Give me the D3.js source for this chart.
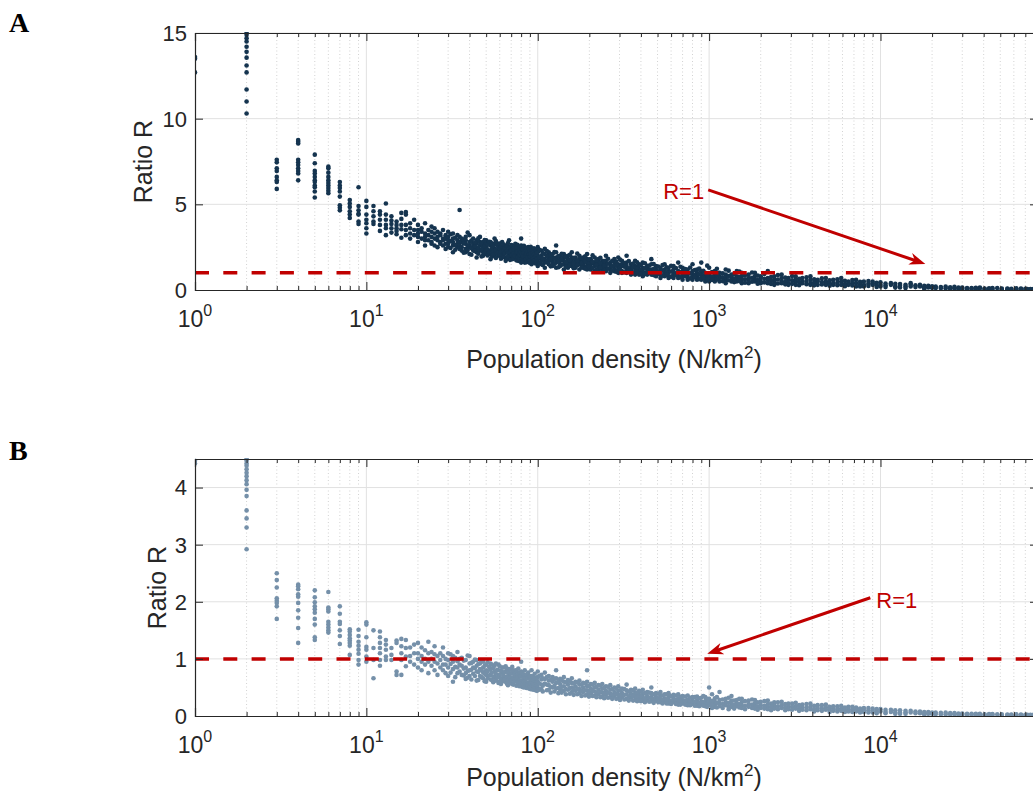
<!DOCTYPE html>
<html>
<head>
<meta charset="utf-8">
<script src="https://cdn.jsdelivr.net/npm/d3@7"></script>
<style>
body { margin: 0; background: #fff; }
svg { display: block; font-family: "Liberation Sans", Arial, Helvetica, sans-serif; }
</style>
</head>
<body>
<svg id="chart" width="1033" height="801"></svg>
<script>
// values: [density, [ratio R values at that density]]
const ratioA = [
    [1, [13.6, 13.5, 12.7]],
    [2, [15.04, 14.9, 14.7, 14.5, 14.2, 13.9, 13.56, 13.1, 12.7, 11.7, 11.0, 10.3]],
    [3, [7.6, 7.45, 7.1, 6.95, 6.6, 6.4, 6.3, 5.9]],
    [4, [8.75, 8.65, 8.55, 7.6, 7.45, 7.3, 7.1, 6.95, 6.8, 6.4]],
    [5, [7.9, 7.4, 6.95, 6.8, 6.6, 6.4, 6.3, 6.1, 6.0, 5.75, 5.4]],
    [6, [7.2, 7.1, 6.85, 6.6, 6.4, 6.25, 6.1, 5.95, 5.8, 5.65]],
    [7, [6.3, 6.1, 5.95, 5.75, 5.45, 4.95, 4.8, 4.65]],
    [8, [5.25, 5.05, 4.85, 4.6, 4.4, 4.2]],
    [9, [6.0, 4.9, 4.65, 4.45, 4.4, 4.0, 3.85]],
    [10, [5.2, 4.85, 4.4, 4.1, 3.9, 3.6, 3.3]],
    [11, [4.9, 4.6, 4.3, 4.0, 3.85]],
    [12, [4.6, 4.4, 4.1, 3.8, 3.45]],
    [13, [5.05, 4.4, 4.1, 3.8, 3.6, 3.2]],
    [14, [4.3, 4.05, 3.85, 3.6, 3.35]],
    [15, [4.0, 3.8, 3.6, 3.45, 3.25]],
    [16, [4.5, 4.15, 3.8, 3.55, 3.05]],
    [17, [4.55, 4.4, 3.8, 3.5, 3.2]],
    [18, [3.9, 3.6, 3.3, 3.0]],
    [19, [4.1, 3.5, 3.2]],
    [20, [3.8, 3.5, 3.3, 3.1, 2.8]],
    [21, [3.6, 3.4, 3.0]],
    [22, [3.9, 3.3, 3.1, 2.9, 2.6]],
    [23, [3.5, 3.2, 2.9]],
    [24, [3.7, 3.4, 3.1, 2.8, 2.7]],
    [25, [3.6, 3.3, 3.0, 2.6]],
    [26, [3.4, 3.1, 2.9, 2.5]],
    [27, [3.3, 3.2, 2.8, 2.7]],
    [28, [3.5, 3.0, 2.9, 2.6]],
    [29, [3.2, 3.0, 2.7, 2.4]],
    [30, [3.4, 3.1, 2.9, 2.7, 2.5]],
    [32, [3.3, 3.0, 2.8, 2.6, 2.2]],
    [34, [3.2, 2.9, 2.7, 2.5]],
    [35, [4.67, 3.1, 2.8, 2.6, 2.4]],
    [36, [3.0, 2.8, 2.5, 2.3]],
    [38, [3.1, 2.9, 2.7, 2.4, 2.2]],
    [40, [3.2, 2.8, 2.6, 2.5, 2.1]],
    [42, [3.0, 2.7, 2.5, 2.3]],
    [44, [2.9, 2.7, 2.4, 2.2, 1.9]],
    [46, [3.1, 2.8, 2.6, 2.3]],
    [48, [2.8, 2.6, 2.4, 2.2, 2.0]],
    [50, [2.9, 2.7, 2.5, 2.3, 2.1]],
    [53, [2.8, 2.6, 2.3, 2.1, 1.8]],
    [56, [3.0, 2.7, 2.4, 2.2, 2.0]],
    [59, [2.7, 2.5, 2.3, 2.0]],
    [62, [2.8, 2.5, 2.3, 2.1, 1.9]],
    [65, [2.6, 2.4, 2.2, 1.9, 1.7]],
    [68, [2.9, 2.5, 2.3, 2.1, 1.9]],
    [71, [2.6, 2.4, 2.2, 2.0, 1.8]],
    [74, [2.7, 2.3, 2.1, 1.9]],
    [77, [2.5, 2.3, 2.1, 1.9, 1.7]],
    [80, [3.0, 2.6, 2.2, 2.0, 1.8, 1.6]],
    [84, [2.4, 2.2, 2.0, 1.8, 1.6]],
    [88, [2.5, 2.3, 2.1, 1.9, 1.7]],
    [92, [2.4, 2.2, 2.0, 1.8, 1.5]],
    [96, [2.3, 2.1, 1.9, 1.7, 1.6]],
    [100, [2.5, 2.2, 2.0, 1.8, 1.6, 1.4]],
    [105, [2.3, 2.0, 1.9, 1.7, 1.5]],
    [110, [2.4, 2.1, 1.8, 1.6, 1.3]],
    [116, [2.2, 2.0, 1.9, 1.7, 1.5]],
    [122, [2.1, 1.9, 1.7, 1.6, 1.4]],
    [128, [2.6, 2.2, 1.9, 1.8, 1.6, 1.3]],
    [135, [2.0, 1.8, 1.7, 1.5, 1.4]],
    [142, [2.1, 1.9, 1.7, 1.5, 1.2]],
    [150, [2.0, 1.8, 1.6, 1.5, 1.3]],
    [158, [2.2, 1.9, 1.7, 1.6, 1.4]],
    [166, [1.9, 1.8, 1.6, 1.4, 1.3]],
    [175, [2.0, 1.8, 1.6, 1.5, 1.2]],
    [184, [1.9, 1.7, 1.5, 1.4, 1.3]],
    [194, [2.1, 1.8, 1.6, 1.4, 1.2]],
    [204, [1.8, 1.7, 1.5, 1.3, 1.2]],
    [215, [1.9, 1.6, 1.5, 1.4, 1.1]],
    [226, [1.8, 1.6, 1.4, 1.3, 1.2]],
    [238, [1.7, 1.5, 1.4, 1.2, 1.1]],
    [250, [2.0, 1.7, 1.5, 1.3, 1.1]],
    [265, [1.6, 1.5, 1.3, 1.2, 1.0]],
    [280, [1.8, 1.6, 1.4, 1.2, 1.1]],
    [295, [1.9, 1.5, 1.3, 1.2, 1.0]],
    [310, [1.7, 1.5, 1.4, 1.1, 1.0]],
    [330, [2.0, 1.6, 1.4, 1.2, 1.0]],
    [350, [1.5, 1.3, 1.2, 1.1, 0.9]],
    [370, [1.7, 1.4, 1.3, 1.1, 0.9]],
    [390, [1.5, 1.4, 1.2, 1.0, 0.9]],
    [410, [1.6, 1.3, 1.1, 1.0, 0.8]],
    [435, [1.4, 1.3, 1.1, 1.0, 0.9]],
    [460, [1.8, 1.5, 1.2, 1.0, 0.9]],
    [490, [1.4, 1.2, 1.1, 0.9, 0.8]],
    [520, [1.3, 1.2, 1.0, 0.9, 0.7]],
    [550, [1.5, 1.2, 1.1, 0.9, 0.8]],
    [580, [1.3, 1.1, 1.0, 0.8, 0.7]],
    [620, [1.4, 1.2, 1.0, 0.9, 0.7]],
    [660, [1.6, 1.1, 1.0, 0.8, 0.7]],
    [700, [1.3, 1.1, 0.9, 0.8, 0.6]],
    [750, [1.2, 1.0, 0.9, 0.7, 0.6]],
    [800, [1.5, 1.1, 0.9, 0.8, 0.6]],
    [850, [1.2, 1.0, 0.8, 0.7, 0.6]],
    [900, [1.6, 1.1, 0.9, 0.7, 0.6]],
    [950, [1.0, 0.9, 0.8, 0.6, 0.5]],
    [1000, [1.3, 0.9, 0.8, 0.7, 0.5]],
    [1080, [1.1, 0.9, 0.7, 0.6, 0.5]],
    [1150, [1.0, 0.8, 0.7, 0.5]],
    [1250, [1.2, 0.9, 0.7, 0.6, 0.4]],
    [1350, [0.9, 0.8, 0.6, 0.5]],
    [1450, [1.1, 0.8, 0.7, 0.5]],
    [1550, [1.0, 0.8, 0.6, 0.4]],
    [1700, [0.9, 0.7, 0.6, 0.4]],
    [1850, [1.0, 0.8, 0.6, 0.5]],
    [2000, [0.8, 0.7, 0.5, 0.4]],
    [2200, [1.1, 0.7, 0.6, 0.4]],
    [2400, [0.8, 0.6, 0.5, 0.3]],
    [2650, [0.9, 0.7, 0.5, 0.4]],
    [2900, [0.7, 0.6, 0.4, 0.3]],
    [3200, [0.8, 0.6, 0.5, 0.3]],
    [3500, [0.7, 0.5, 0.4]],
    [3900, [0.8, 0.6, 0.4, 0.3]],
    [4300, [0.6, 0.5, 0.3]],
    [4800, [0.7, 0.5, 0.4, 0.3]],
    [5300, [0.6, 0.4, 0.3]],
    [5900, [0.7, 0.5, 0.3]],
    [6500, [0.5, 0.4, 0.3]],
    [7200, [0.6, 0.4, 0.2]],
    [8000, [0.5, 0.3, 0.2]],
    [9000, [0.5, 0.4, 0.3]],
    [10000, [0.45, 0.3, 0.2]],
    [11500, [0.4, 0.3]],
    [13000, [0.35, 0.25, 0.15]],
    [15000, [0.4, 0.3, 0.2]],
    [17000, [0.3, 0.2]],
    [19000, [0.25, 0.15]],
    [21000, [0.2, 0.12]],
    [24000, [0.2, 0.1]],
    [27000, [0.18, 0.1]],
    [30000, [0.15, 0.08]],
    [34000, [0.12, 0.08]],
    [38000, [0.15, 0.1]],
    [43000, [0.1, 0.06]],
    [48000, [0.12]],
    [55000, [0.08, 0.05]],
    [62000, [0.1, 0.06]],
    [70000, [0.07]],
    [75000, [0.06]]
];

// more points of the dense cloud in panel A
const cloudA = [
    [31, [3.25, 2.85, 2.45]], [33, [3.05, 2.62, 2.35]], [37, [2.95, 2.72, 2.18]],
    [39, [3.35, 2.58, 2.33]], [41, [2.88, 2.44, 2.06]], [43, [2.76, 2.52, 2.28]],
    [45, [3.02, 2.47, 2.12]], [47, [2.69, 2.38, 1.96]], [49, [2.91, 2.55, 2.17]],
    [51, [2.64, 2.36, 2.02]], [52, [2.82, 2.19]], [54, [2.73, 2.41, 1.94]],
    [55, [2.57, 2.26, 2.08]], [57, [2.86, 2.34, 1.87]], [58, [2.61, 2.15]],
    [60, [2.71, 2.43, 2.05]], [61, [2.52, 2.24, 1.83]], [63, [2.67, 2.31, 1.97]],
    [64, [2.45, 2.12]], [66, [2.58, 2.27, 1.81]], [67, [2.74, 2.16, 1.95]],
    [69, [2.49, 2.21, 1.76]], [70, [2.62, 2.33, 2.04]], [72, [2.41, 2.13, 1.86]],
    [73, [2.55, 1.98]], [75, [2.47, 2.17, 1.73]], [76, [2.64, 2.26, 1.92]],
    [78, [2.38, 2.05, 1.79]], [79, [2.53, 2.22]], [81, [2.44, 2.11, 1.84]],
    [82, [2.36, 1.97, 1.68]], [83, [2.58, 2.18]], [85, [2.32, 2.03, 1.77]],
    [86, [2.47, 2.14, 1.62]], [87, [2.28, 1.93]], [89, [2.41, 2.07, 1.74]],
    [90, [2.26, 1.96, 1.58]], [91, [2.52, 2.12]], [93, [2.33, 2.01, 1.67]],
    [94, [2.19, 1.86]], [95, [2.43, 2.09, 1.72]], [97, [2.27, 1.94, 1.55]],
    [98, [2.36, 2.04]], [99, [2.18, 1.83, 1.63]],
    [102, [2.34, 1.92, 1.57]], [107, [2.15, 1.84, 1.46]], [113, [2.28, 1.96, 1.62]],
    [119, [2.06, 1.77, 1.38]], [125, [2.21, 1.85, 1.52]], [132, [1.98, 1.66, 1.33]],
    [138, [2.12, 1.78, 1.47]], [146, [1.93, 1.62, 1.36]], [154, [2.05, 1.74, 1.42]],
    [162, [1.87, 1.55, 1.27]], [170, [2.13, 1.72, 1.45]], [180, [1.84, 1.58, 1.32]],
    [189, [1.96, 1.65, 1.24]], [199, [1.78, 1.52, 1.37]], [209, [2.02, 1.63, 1.28]],
    [220, [1.74, 1.46, 1.18]], [232, [1.88, 1.57, 1.33]], [244, [1.69, 1.42, 1.16]],
    [257, [1.82, 1.53, 1.25]], [272, [1.71, 1.38, 1.14]], [287, [1.64, 1.45, 1.07]],
    [302, [1.77, 1.33, 1.16]], [320, [1.58, 1.36, 1.04]], [340, [1.69, 1.27, 1.12]],
    [360, [1.54, 1.31, 0.98]], [380, [1.62, 1.24, 1.06]], [400, [1.47, 1.18, 0.96]],
    [422, [1.56, 1.27, 0.93]], [447, [1.42, 1.16, 1.03]], [475, [1.51, 1.22, 0.87]],
    [505, [1.37, 1.06, 0.95]], [535, [1.46, 1.14, 0.84]], [565, [1.33, 1.02, 0.91]],
    [600, [1.41, 1.08, 0.78]], [640, [1.28, 0.97, 0.86]], [680, [1.36, 1.04, 0.74]],
    [725, [1.22, 0.93, 0.81]], [775, [1.31, 0.98, 0.68]], [825, [1.17, 0.87, 0.76]],
    [875, [1.25, 0.92, 0.64]], [925, [1.12, 0.83, 0.71]], [975, [1.42, 0.88, 0.62]],
    [1040, [1.05, 0.78, 0.58]], [1110, [1.24, 0.84, 0.63]], [1200, [0.98, 0.74, 0.52]],
    [1300, [1.13, 0.82, 0.57]], [1400, [0.93, 0.66, 0.46]], [1500, [1.08, 0.75, 0.53]],
    [1620, [0.86, 0.63, 0.42]], [1780, [1.02, 0.71, 0.48]], [1920, [0.84, 0.58, 0.37]],
    [2100, [0.93, 0.65, 0.44]], [2300, [0.76, 0.54, 0.35]], [2520, [0.87, 0.61, 0.38]],
    [2780, [0.72, 0.49, 0.33]], [3050, [0.81, 0.56, 0.36]], [3350, [0.66, 0.46, 0.28]],
    [3700, [0.74, 0.52, 0.34]], [4100, [0.62, 0.43, 0.27]], [4550, [0.68, 0.47, 0.32]],
    [5050, [0.57, 0.38, 0.25]], [5600, [0.63, 0.42, 0.28]], [6200, [0.54, 0.35, 0.22]],
    [6850, [0.58, 0.39, 0.26]], [7600, [0.48, 0.33, 0.21]], [8500, [0.52, 0.36, 0.24]],
    [9500, [0.42, 0.28, 0.18]], [10700, [0.38, 0.26, 0.17]], [12200, [0.36, 0.22, 0.14]],
    [14000, [0.31, 0.21, 0.12]], [16000, [0.28, 0.17]], [18000, [0.24, 0.14, 0.09]],
    [20000, [0.21, 0.13]], [22500, [0.17, 0.11]], [25500, [0.16, 0.09]],
    [28500, [0.14, 0.07]], [32000, [0.11, 0.07]], [36000, [0.13, 0.08]],
    [40500, [0.09, 0.05]], [45000, [0.11, 0.07]], [51000, [0.08, 0.05]],
    [58000, [0.07, 0.04]], [66000, [0.08, 0.05]], [72000, [0.05]], [78000, [0.06, 0.04]]
];

const ratioB = [
    [1, [4.47, 4.42]],
    [2, [4.5, 4.47, 4.42, 4.38, 4.32, 4.26, 4.2, 4.13, 4.06, 3.96, 3.85, 3.6, 3.46, 3.3, 2.92]],
    [3, [2.5, 2.38, 2.25, 2.06, 2.02, 1.98, 1.92, 1.7]],
    [4, [2.3, 2.27, 2.22, 2.13, 2.09, 1.98, 1.85, 1.72, 1.54, 1.28]],
    [5, [2.2, 2.08, 1.99, 1.92, 1.87, 1.81, 1.7, 1.6, 1.38, 1.33]],
    [6, [2.17, 1.9, 1.87, 1.83, 1.65, 1.6, 1.55, 1.5, 1.46]],
    [7, [1.92, 1.79, 1.65, 1.61, 1.5, 1.4, 1.26]],
    [8, [1.52, 1.48, 1.42, 1.36, 1.32, 1.28, 1.23, 1.07]],
    [9, [1.51, 1.4, 1.3, 1.23, 1.16, 1.09, 0.98, 0.9]],
    [10, [1.64, 1.6, 1.38, 1.21, 1.16, 1.04, 0.95]],
    [11, [1.5, 1.19, 0.98, 0.66]],
    [12, [1.48, 1.38, 1.28, 1.19, 1.1, 0.98, 0.88]],
    [13, [1.33, 1.25, 1.16, 1.04, 0.98]],
    [14, [1.19, 1.07, 0.98]],
    [15, [1.32, 1.28, 0.78, 0.72]],
    [16, [1.35, 1.22, 1.1, 0.98, 0.72]],
    [17, [1.33, 1.19, 1.04, 0.87]],
    [18, [1.2, 1.05, 0.95]],
    [19, [1.25, 1.1, 0.9]],
    [20, [1.28, 1.1, 1.0, 0.85]],
    [21, [1.2, 1.05, 0.95, 0.8]],
    [22, [1.15, 1.0, 0.9]],
    [23, [1.3, 1.1, 0.95, 0.75]],
    [24, [1.12, 1.0, 0.88]],
    [25, [1.22, 1.08, 0.95, 0.8]],
    [26, [1.05, 0.92, 0.72]],
    [27, [1.1, 0.98, 0.85]],
    [28, [1.2, 1.05, 0.9, 0.8]],
    [29, [1.0, 0.9, 0.75]],
    [30, [1.1, 0.98, 0.85, 0.7]],
    [32, [1.05, 0.95, 0.82, 0.6]],
    [34, [1.12, 0.96, 0.85, 0.75]],
    [35, [1.0, 0.9, 0.78]],
    [36, [1.02, 0.88, 0.72]],
    [38, [0.98, 0.85, 0.75, 0.65]],
    [40, [1.05, 0.92, 0.8, 0.7]],
    [42, [0.95, 0.85, 0.74]],
    [44, [0.98, 0.88, 0.78, 0.62]],
    [46, [0.92, 0.82, 0.7]],
    [48, [0.95, 0.85, 0.76, 0.66]],
    [50, [0.9, 0.8, 0.72, 0.6]],
    [53, [0.92, 0.82, 0.72, 0.64]],
    [56, [0.88, 0.78, 0.68]],
    [59, [0.9, 0.8, 0.7, 0.58]],
    [62, [0.85, 0.76, 0.66]],
    [65, [0.87, 0.78, 0.68, 0.6]],
    [68, [0.82, 0.73, 0.64]],
    [71, [0.86, 0.76, 0.66, 0.56]],
    [74, [0.8, 0.7, 0.62]],
    [77, [0.83, 0.74, 0.65, 0.55]],
    [80, [0.95, 0.78, 0.7, 0.6]],
    [84, [0.8, 0.7, 0.62, 0.54]],
    [88, [0.76, 0.68, 0.58]],
    [92, [0.8, 0.7, 0.62, 0.52]],
    [96, [0.74, 0.66, 0.56]],
    [100, [0.78, 0.68, 0.6, 0.5]],
    [105, [0.72, 0.64, 0.55, 0.47]],
    [110, [0.76, 0.65, 0.57]],
    [116, [0.7, 0.62, 0.54, 0.46]],
    [122, [0.68, 0.6, 0.5]],
    [128, [0.8, 0.66, 0.58, 0.48]],
    [135, [0.65, 0.56, 0.47]],
    [142, [0.68, 0.6, 0.52, 0.44]],
    [150, [0.63, 0.55, 0.46]],
    [158, [0.66, 0.58, 0.5, 0.42]],
    [166, [0.6, 0.52, 0.44]],
    [175, [0.62, 0.55, 0.47, 0.4]],
    [184, [0.58, 0.5, 0.42]],
    [194, [0.8, 0.6, 0.52, 0.45, 0.38]],
    [204, [0.56, 0.48, 0.4]],
    [215, [0.58, 0.5, 0.43, 0.36]],
    [226, [0.54, 0.46, 0.38]],
    [238, [0.56, 0.48, 0.41, 0.34]],
    [250, [0.52, 0.44, 0.37]],
    [265, [0.54, 0.46, 0.39, 0.33]],
    [280, [0.5, 0.42, 0.35]],
    [295, [0.52, 0.44, 0.37, 0.31]],
    [310, [0.48, 0.4, 0.33]],
    [330, [0.55, 0.45, 0.38, 0.3]],
    [350, [0.46, 0.39, 0.32]],
    [370, [0.48, 0.4, 0.34, 0.28]],
    [390, [0.44, 0.37, 0.3]],
    [410, [0.46, 0.38, 0.32, 0.27]],
    [435, [0.42, 0.35, 0.28]],
    [460, [0.5, 0.4, 0.33, 0.26]],
    [490, [0.4, 0.33, 0.27]],
    [520, [0.42, 0.35, 0.29, 0.24]],
    [550, [0.38, 0.31, 0.25]],
    [580, [0.4, 0.33, 0.27, 0.22]],
    [620, [0.37, 0.3, 0.24]],
    [660, [0.38, 0.31, 0.25, 0.2]],
    [700, [0.35, 0.28, 0.22]],
    [750, [0.36, 0.29, 0.23, 0.19]],
    [800, [0.33, 0.27, 0.21]],
    [850, [0.34, 0.27, 0.22, 0.18]],
    [900, [0.32, 0.25, 0.2]],
    [950, [0.33, 0.26, 0.21, 0.17]],
    [1000, [0.5, 0.3, 0.24, 0.19]],
    [1080, [0.31, 0.25, 0.2, 0.16]],
    [1150, [0.42, 0.28, 0.22, 0.17]],
    [1250, [0.3, 0.24, 0.19]],
    [1350, [0.35, 0.27, 0.21, 0.16]],
    [1450, [0.28, 0.22, 0.17]],
    [1550, [0.3, 0.24, 0.18, 0.14]],
    [1700, [0.27, 0.21, 0.16]],
    [1850, [0.28, 0.22, 0.17, 0.13]],
    [2000, [0.25, 0.19, 0.14]],
    [2200, [0.27, 0.21, 0.16, 0.12]],
    [2400, [0.24, 0.18, 0.13]],
    [2650, [0.25, 0.19, 0.14]],
    [2900, [0.22, 0.17, 0.12]],
    [3200, [0.23, 0.17, 0.13]],
    [3500, [0.2, 0.15, 0.11]],
    [3900, [0.22, 0.16, 0.12]],
    [4300, [0.19, 0.14, 0.1]],
    [4800, [0.2, 0.15, 0.11]],
    [5300, [0.17, 0.13, 0.09]],
    [5900, [0.18, 0.13, 0.09]],
    [6500, [0.16, 0.12, 0.08]],
    [7200, [0.15, 0.11, 0.08]],
    [8000, [0.14, 0.1, 0.07]],
    [9000, [0.13, 0.09, 0.06]],
    [10000, [0.12, 0.08]],
    [11500, [0.11, 0.07]],
    [13000, [0.1, 0.06, 0.04]],
    [15000, [0.09, 0.06]],
    [17000, [0.08, 0.05]],
    [19000, [0.07, 0.04]],
    [21000, [0.06, 0.035]],
    [24000, [0.06, 0.03]],
    [27000, [0.05, 0.03]],
    [30000, [0.045, 0.025]],
    [34000, [0.04, 0.025]],
    [38000, [0.04, 0.02]],
    [43000, [0.035, 0.02]],
    [48000, [0.03]],
    [55000, [0.025, 0.015]],
    [62000, [0.03, 0.02]],
    [70000, [0.02]],
    [75000, [0.02]]
];

// more points of the dense cloud in panel B
const cloudB = [
    [31, [1.08, 0.91, 0.76]], [33, [1.02, 0.86, 0.68]], [37, [0.97, 0.83, 0.71]],
    [39, [1.06, 0.79, 0.67]], [41, [0.93, 0.81, 0.64]], [43, [0.99, 0.84, 0.7]],
    [45, [0.91, 0.77, 0.63]], [47, [0.96, 0.8, 0.68]], [49, [0.88, 0.74, 0.61]],
    [51, [0.94, 0.78, 0.66]], [52, [0.86, 0.71]], [54, [0.9, 0.76, 0.63]],
    [55, [0.84, 0.69, 0.59]], [57, [0.92, 0.74, 0.62]], [58, [0.81, 0.67]],
    [60, [0.87, 0.72, 0.6]], [61, [0.79, 0.65, 0.56]], [63, [0.85, 0.71, 0.61]],
    [64, [0.77, 0.64]], [66, [0.83, 0.69, 0.57]], [67, [0.76, 0.62, 0.54]],
    [69, [0.81, 0.67, 0.58]], [70, [0.74, 0.63]], [72, [0.79, 0.66, 0.55]],
    [73, [0.72, 0.6]], [75, [0.78, 0.64, 0.53]], [76, [0.71, 0.59]],
    [78, [0.76, 0.63, 0.52]], [79, [0.7, 0.58]], [81, [0.74, 0.62, 0.51]],
    [82, [0.68, 0.56]], [83, [0.73, 0.6, 0.5]], [85, [0.67, 0.57]],
    [86, [0.72, 0.59, 0.49]], [87, [0.66, 0.55]], [89, [0.7, 0.58, 0.48]],
    [90, [0.65, 0.54]], [91, [0.69, 0.57, 0.47]], [93, [0.64, 0.53]],
    [94, [0.68, 0.56, 0.46]], [95, [0.63, 0.52]], [97, [0.67, 0.55, 0.45]],
    [98, [0.62, 0.51]], [99, [0.66, 0.54, 0.44]],
    [102, [0.7, 0.57, 0.46]], [107, [0.66, 0.53, 0.43]], [113, [0.68, 0.55, 0.45]],
    [119, [0.63, 0.51, 0.41]], [125, [0.65, 0.53, 0.43]], [132, [0.61, 0.49, 0.4]],
    [138, [0.63, 0.51, 0.41]], [146, [0.59, 0.47, 0.38]], [154, [0.61, 0.49, 0.39]],
    [162, [0.57, 0.46, 0.37]], [170, [0.59, 0.47, 0.38]], [180, [0.55, 0.44, 0.35]],
    [189, [0.57, 0.45, 0.36]], [199, [0.53, 0.42, 0.34]], [209, [0.55, 0.44, 0.35]],
    [220, [0.51, 0.41, 0.33]], [232, [0.53, 0.42, 0.33]], [244, [0.49, 0.39, 0.31]],
    [257, [0.51, 0.41, 0.32]], [272, [0.47, 0.37, 0.3]], [287, [0.49, 0.39, 0.3]],
    [302, [0.45, 0.36, 0.28]], [320, [0.47, 0.37, 0.29]], [340, [0.43, 0.34, 0.27]],
    [360, [0.45, 0.35, 0.27]], [380, [0.41, 0.33, 0.26]], [400, [0.43, 0.34, 0.26]],
    [422, [0.4, 0.31, 0.24]], [447, [0.41, 0.32, 0.25]], [475, [0.38, 0.3, 0.23]],
    [505, [0.39, 0.31, 0.24]], [535, [0.36, 0.28, 0.22]], [565, [0.38, 0.29, 0.22]],
    [600, [0.35, 0.27, 0.21]], [640, [0.36, 0.28, 0.21]], [680, [0.33, 0.26, 0.2]],
    [725, [0.34, 0.26, 0.2]], [775, [0.32, 0.25, 0.19]], [825, [0.33, 0.25, 0.18]],
    [875, [0.31, 0.23, 0.17]], [925, [0.35, 0.24, 0.18]], [975, [0.3, 0.22, 0.16]],
    [1040, [0.38, 0.26, 0.19, 0.14]], [1110, [0.33, 0.23, 0.15]], [1200, [0.29, 0.21, 0.14]],
    [1300, [0.32, 0.23, 0.16, 0.12]], [1400, [0.27, 0.19, 0.13]], [1500, [0.3, 0.21, 0.15]],
    [1620, [0.26, 0.18, 0.12]], [1780, [0.29, 0.2, 0.14]], [1920, [0.24, 0.17, 0.11]],
    [2100, [0.26, 0.18, 0.13]], [2300, [0.22, 0.16, 0.1]], [2520, [0.24, 0.17, 0.12]],
    [2780, [0.21, 0.15, 0.1]], [3050, [0.22, 0.16, 0.11]], [3350, [0.19, 0.13, 0.09]],
    [3700, [0.21, 0.15, 0.1]], [4100, [0.18, 0.12, 0.08]], [4550, [0.19, 0.13, 0.09]],
    [5050, [0.16, 0.11, 0.07]], [5600, [0.17, 0.12, 0.08]], [6200, [0.15, 0.1, 0.07]],
    [6850, [0.16, 0.11, 0.07]], [7600, [0.13, 0.09, 0.06]], [8500, [0.14, 0.1, 0.06]],
    [9500, [0.12, 0.08, 0.05]], [10700, [0.11, 0.07, 0.05]], [12200, [0.1, 0.06, 0.04]],
    [14000, [0.09, 0.06, 0.04]], [16000, [0.08, 0.05]], [18000, [0.07, 0.04, 0.03]],
    [20000, [0.06, 0.04]], [22500, [0.055, 0.03]], [25500, [0.05, 0.03]],
    [28500, [0.045, 0.025]], [32000, [0.04, 0.02]], [36000, [0.04, 0.025]],
    [40500, [0.03, 0.02]], [45000, [0.035, 0.02]], [51000, [0.03, 0.015]],
    [58000, [0.025, 0.015]], [66000, [0.025, 0.015]], [72000, [0.02]], [78000, [0.02, 0.015]]
];

const yTicksA = [0, 5, 10, 15];
const yTicksB = [0, 1, 2, 3, 4];
const decadeExps = [0, 1, 2, 3, 4];
const xMin = 1, xMax = 83000;
const refLine = 1;

// annotation anchors in data units [density, R]
const noteA = { label: 'R=1', at: [936, 5.8], from: [988, 5.84], to: [18270, 1.52] };
const noteB = { label: 'R=1', at: [9450, 2.03], from: [8720, 2.07], to: [975, 1.09] };

const panels = [
    { letter: 'A', top: 33, bottom: 290, yMax: 15, yTicks: yTicksA, cols: ratioA.concat(cloudA),
      color: '#15344f', note: noteA, anchor: 'end', letterY: 32, ylabX: 152, titleGap: 78 },
    { letter: 'B', top: 459, bottom: 716, yMax: 4.5, yTicks: yTicksB, cols: ratioB.concat(cloudB),
      color: '#7590a9', note: noteB, anchor: 'start', letterY: 460, ylabX: 166, titleGap: 70 }
];

const left = 195, right = 1038;
const axisColor = '#262626';
const red = '#c00000';
const svg = d3.select('#chart');

const minorVals = [];
for (const e of decadeExps) {
    for (let m = 2; m <= 9; m++) {
        const v = m * Math.pow(10, e);
        if (v < xMax) minorVals.push(v);
    }
}

function drawPanel(p, i) {
    const x = d3.scaleLog().domain([xMin, xMax]).range([left, right]);
    const y = d3.scaleLinear().domain([0, p.yMax]).range([p.bottom, p.top]);
    const g = svg.append('g');
    const decades = decadeExps.map(e => Math.pow(10, e));

    // grid
    g.append('g').selectAll('line').data(minorVals).enter().append('line')
        .attr('x1', d => x(d)).attr('x2', d => x(d))
        .attr('y1', p.top).attr('y2', p.bottom)
        .attr('stroke', '#d2d2d2').attr('stroke-width', 1).attr('stroke-dasharray', '1,2.5');
    g.append('g').selectAll('line').data(decades.slice(1)).enter().append('line')
        .attr('x1', d => x(d)).attr('x2', d => x(d))
        .attr('y1', p.top).attr('y2', p.bottom)
        .attr('stroke', '#e1e1e1').attr('stroke-width', 1);
    g.append('g').selectAll('line').data(p.yTicks.slice(1)).enter().append('line')
        .attr('x1', left).attr('x2', right)
        .attr('y1', d => y(d)).attr('y2', d => y(d))
        .attr('stroke', '#e1e1e1').attr('stroke-width', 1);

    // clip
    const clipId = 'clip' + i;
    svg.append('clipPath').attr('id', clipId).append('rect')
        .attr('x', left).attr('y', p.top - 1)
        .attr('width', right - left).attr('height', p.bottom - p.top + 1);

    const pts = [];
    for (const c of p.cols) for (const r of c[1]) pts.push([c[0], r]);

    g.append('g').attr('clip-path', 'url(#' + clipId + ')')
        .selectAll('circle').data(pts).enter().append('circle')
        .attr('cx', d => x(d[0])).attr('cy', d => y(d[1]))
        .attr('r', 2.3).attr('fill', p.color);

    // R = 1 line
    g.append('line')
        .attr('x1', left).attr('x2', right)
        .attr('y1', y(refLine)).attr('y2', y(refLine))
        .attr('stroke', red).attr('stroke-width', 3.5).attr('stroke-dasharray', '14,14.3');

    // axes, ticks pointing inward
    const xAxis = d3.axisBottom(x).tickValues(decades).tickSize(-8).tickFormat('');
    const xMinor = d3.axisBottom(x).tickValues(minorVals).tickSize(-4).tickFormat('');
    const xTop = d3.axisTop(x).tickValues(decades).tickSize(-8).tickFormat('');
    const xTopMinor = d3.axisTop(x).tickValues(minorVals).tickSize(-4).tickFormat('');
    const yAxis = d3.axisLeft(y).tickValues(p.yTicks).tickSize(-8).tickFormat('');
    const yRight = d3.axisRight(y).tickValues(p.yTicks).tickSize(-8).tickFormat('');

    const style = sel => {
        sel.selectAll('path').attr('stroke', axisColor);
        sel.selectAll('line').attr('stroke', axisColor);
    };
    g.append('g').attr('transform', `translate(0,${p.bottom})`).call(xAxis).call(style);
    g.append('g').attr('transform', `translate(0,${p.bottom})`).call(xMinor).call(style)
        .select('.domain').remove();
    g.append('g').attr('transform', `translate(0,${p.top})`).call(xTop).call(style);
    g.append('g').attr('transform', `translate(0,${p.top})`).call(xTopMinor).call(style)
        .select('.domain').remove();
    g.append('g').attr('transform', `translate(${left},0)`).call(yAxis).call(style);
    g.append('g').attr('transform', `translate(${right},0)`).call(yRight).call(style);
    g.selectAll('.domain').attr('stroke-width', 1.2);

    // tick labels
    g.append('g').selectAll('text').data(p.yTicks).enter().append('text')
        .attr('x', left - 8).attr('y', d => y(d))
        .attr('dy', '0.36em').attr('text-anchor', 'end')
        .attr('font-size', 22).attr('fill', axisColor)
        .text(d => d);

    const xl = g.append('g').selectAll('text').data(decadeExps).enter().append('text')
        .attr('x', e => x(Math.pow(10, e))).attr('y', p.bottom + 37)
        .attr('text-anchor', 'middle').attr('font-size', 23).attr('fill', axisColor);
    xl.append('tspan').text('10');
    xl.append('tspan').attr('dy', -11).attr('font-size', 16).text(e => e);

    // axis titles
    const xt = g.append('text')
        .attr('x', (left + 1033) / 2).attr('y', p.bottom + p.titleGap)
        .attr('text-anchor', 'middle').attr('font-size', 25).attr('fill', axisColor);
    xt.append('tspan').text('Population density (N/km');
    xt.append('tspan').attr('dy', -10).attr('font-size', 17).text('2');
    xt.append('tspan').attr('dy', 10).text(')');

    g.append('text')
        .attr('transform', `translate(${p.ylabX},${(p.top + p.bottom) / 2}) rotate(-90)`)
        .attr('text-anchor', 'middle').attr('font-size', 25).attr('fill', axisColor)
        .text('Ratio R');

    // panel letter
    g.append('text').attr('x', 9).attr('y', p.letterY)
        .attr('font-family', '"Liberation Serif", "Times New Roman", serif')
        .attr('font-weight', 'bold').attr('font-size', 28).attr('fill', '#000')
        .text(p.letter);

    // annotation arrow
    const n = p.note;
    const x0 = x(n.from[0]), y0 = y(n.from[1]);
    const x1 = x(n.to[0]), y1 = y(n.to[1]);
    const len = Math.hypot(x1 - x0, y1 - y0);
    const ux = (x1 - x0) / len, uy = (y1 - y0) / len;
    const px = -uy, py = ux;
    const L = 16, W = 6;
    g.append('line')
        .attr('x1', x0).attr('y1', y0)
        .attr('x2', x1 - ux * 10).attr('y2', y1 - uy * 10)
        .attr('stroke', red).attr('stroke-width', 3);
    g.append('path')
        .attr('d', `M${x1},${y1}L${x1 - ux * L + px * W},${y1 - uy * L + py * W}` +
            `L${x1 - ux * L * 0.7},${y1 - uy * L * 0.7}` +
            `L${x1 - ux * L - px * W},${y1 - uy * L - py * W}Z`)
        .attr('fill', red);
    g.append('text')
        .attr('x', x(n.at[0])).attr('y', y(n.at[1]))
        .attr('dy', '0.36em').attr('text-anchor', p.anchor)
        .attr('font-size', 22).attr('fill', red)
        .text(n.label);
}

panels.forEach(drawPanel);
</script>
</body>
</html>
